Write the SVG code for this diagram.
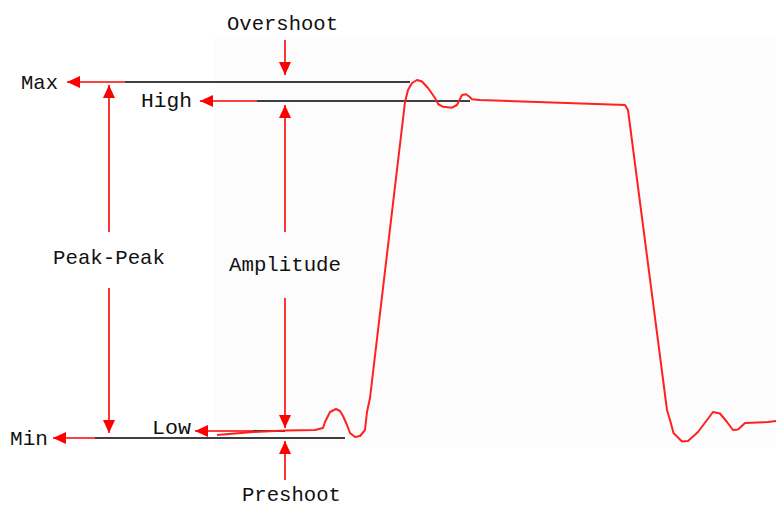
<svg xmlns="http://www.w3.org/2000/svg" width="776" height="506" viewBox="0 0 776 506">
<style>
.t{font-family:"Liberation Mono","DejaVu Sans Mono",monospace;font-size:21px;fill:#111;}
.r{stroke:#ff0000;stroke-width:1.6;fill:none;}
.k{stroke:#000;stroke-width:1.6;fill:none;}
.w{stroke:#ff2020;stroke-width:2;fill:none;stroke-linejoin:round;}
</style>
<defs>
<marker id="ah" markerUnits="userSpaceOnUse" markerWidth="14" markerHeight="12" refX="13" refY="6" orient="auto">
<path d="M0,0 L13,6 L0,12 z" fill="#ff0000"/>
</marker>
</defs>
<rect width="776" height="506" fill="#ffffff"/>
<rect x="215" y="36" width="561" height="412" fill="#fcfcfc"/>
<g id="levels">
<line class="k" x1="125" y1="82" x2="410" y2="82"/>
<line class="k" x1="257" y1="101" x2="470" y2="101"/>
<line class="k" x1="95" y1="438" x2="345" y2="438"/>
<line class="k" x1="253" y1="431" x2="285" y2="431"/>
</g>
<g id="waveform">
<path class="w" d="M217,435 L253,432 L285,430.5 L315,430 L323,428 L325,422 L330,412 L336,409 L340,411 L343,416 L347,425 L350,433 L355,437 L360,436 L365,430 L367,412 L370,398 L405,102 L408,90 L412,83 L417,80 L422,81.5 L428,88 L435,98 L438.5,104.5 L443,106.7 L452,107.7 L457,105 L462,95 L466,94.3 L469.5,96.7 L472,99.3 L480,100 L625,105 L628,110 L667,410 L670,420 L673.5,433 L682,441.5 L688,441 L698,432 L707,420 L713,412 L720,413.5 L727,422 L733,430 L738,429.5 L745,423 L768,422 L776,421"/>
</g>
<g id="connectors">
<line class="r" x1="125" y1="82" x2="67" y2="82" marker-end="url(#ah)"/>
<line class="r" x1="257" y1="101" x2="200" y2="101" marker-end="url(#ah)"/>
<line class="r" x1="95" y1="438" x2="53" y2="438" marker-end="url(#ah)"/>
<line class="r" x1="253" y1="431" x2="195" y2="431" marker-end="url(#ah)"/>
<line class="r" x1="109" y1="232" x2="109" y2="85" marker-end="url(#ah)"/>
<line class="r" x1="109" y1="288" x2="109" y2="433" marker-end="url(#ah)"/>
<line class="r" x1="285" y1="232" x2="285" y2="105" marker-end="url(#ah)"/>
<line class="r" x1="285" y1="298" x2="285" y2="428" marker-end="url(#ah)"/>
<line class="r" x1="285" y1="40" x2="285" y2="75" marker-end="url(#ah)"/>
<line class="r" x1="285" y1="480" x2="285" y2="441" marker-end="url(#ah)"/>
</g>
<g id="label-overshoot"><text class="t" x="227" y="30" textLength="111" lengthAdjust="spacingAndGlyphs">Overshoot</text></g>
<g id="label-max"><text class="t" x="21" y="89" textLength="37" lengthAdjust="spacingAndGlyphs">Max</text></g>
<g id="label-high"><text class="t" x="141" y="107" textLength="51" lengthAdjust="spacingAndGlyphs">High</text></g>
<g id="label-peakpeak"><text class="t" x="53" y="264" textLength="112" lengthAdjust="spacingAndGlyphs">Peak-Peak</text></g>
<g id="label-amplitude"><text class="t" x="229" y="271" textLength="112" lengthAdjust="spacingAndGlyphs">Amplitude</text></g>
<g id="label-low"><text class="t" x="152" y="434" textLength="39" lengthAdjust="spacingAndGlyphs">Low</text></g>
<g id="label-min"><text class="t" x="10" y="445" textLength="38" lengthAdjust="spacingAndGlyphs">Min</text></g>
<g id="label-preshoot"><text class="t" x="242" y="501" textLength="99" lengthAdjust="spacingAndGlyphs">Preshoot</text></g>
</svg>
